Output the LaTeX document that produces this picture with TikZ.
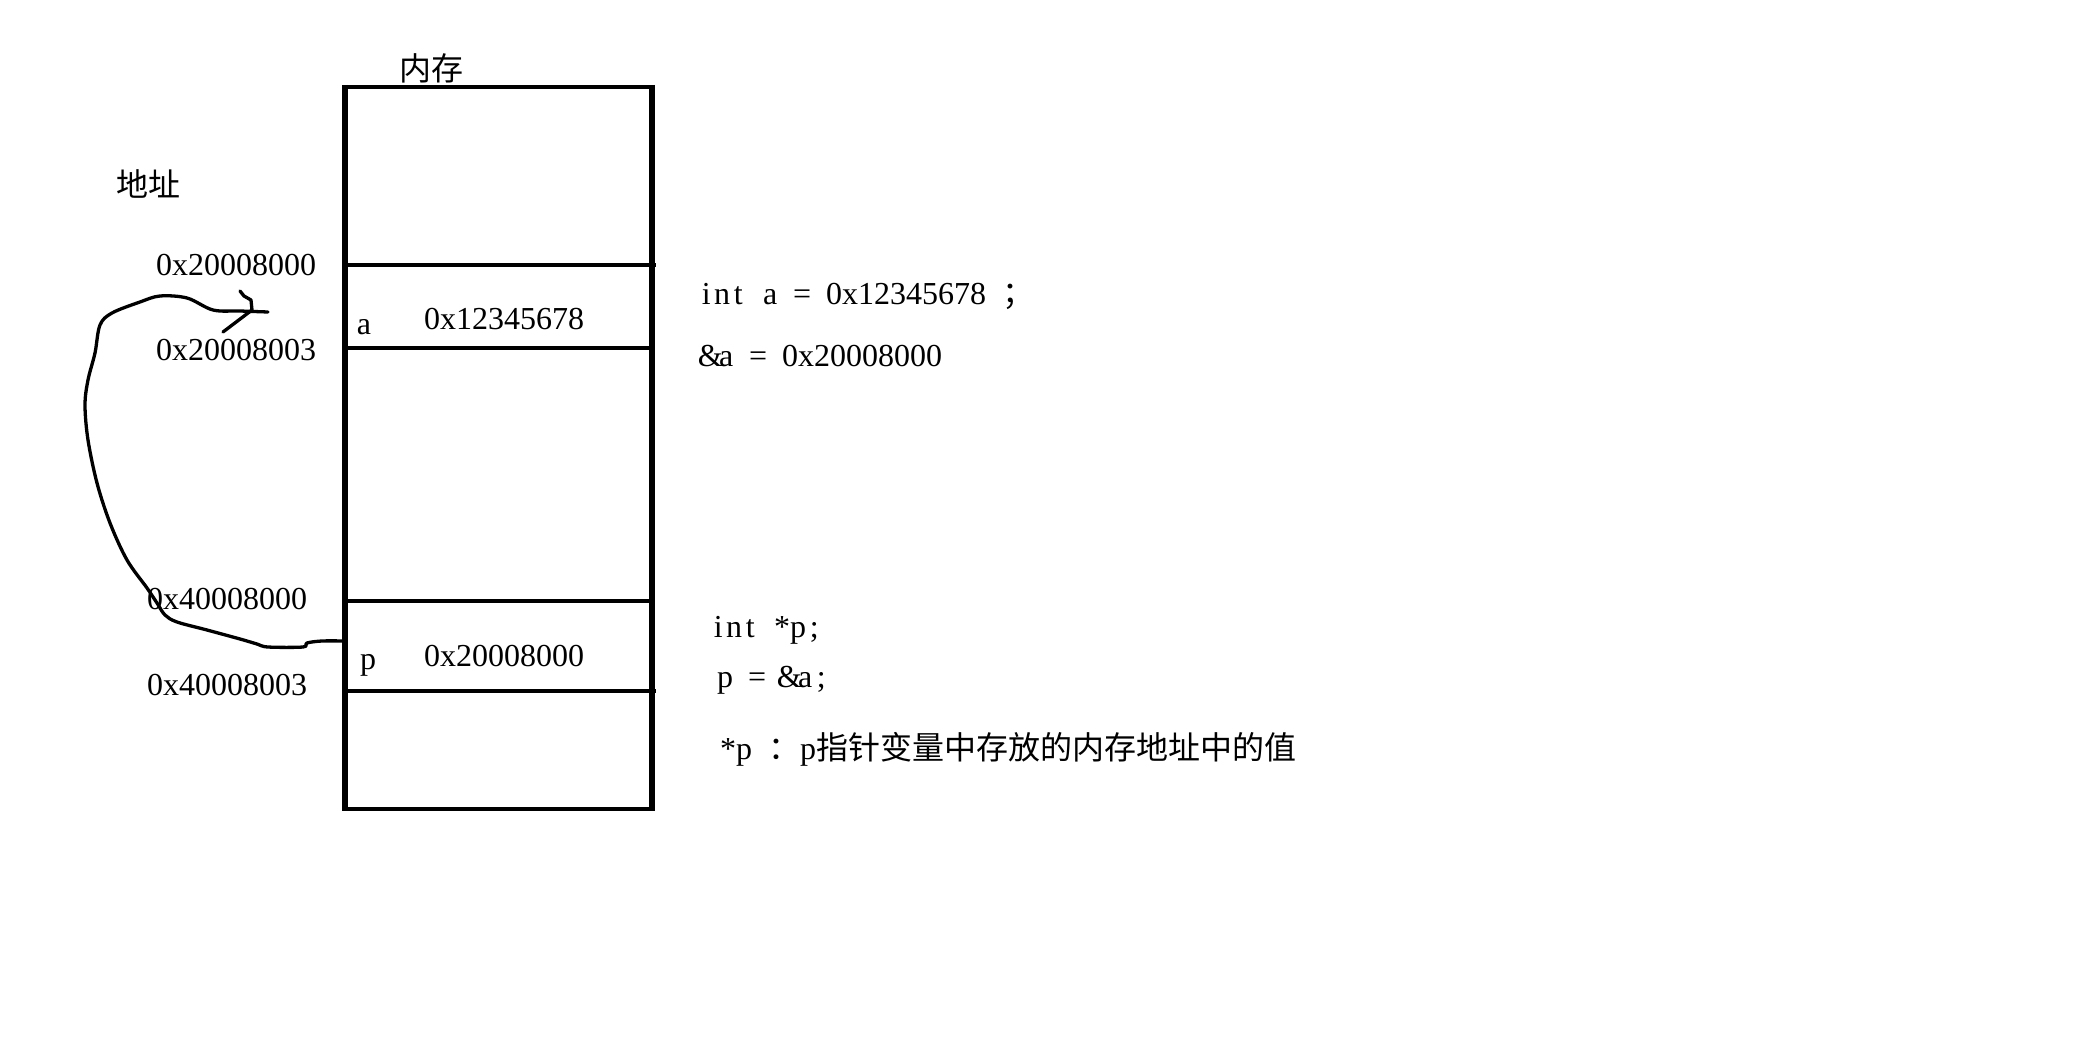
\documentclass[tikz,border=0pt]{standalone}
\usepackage{fontspec}
\setmainfont{Liberation Serif}
\newfontfamily\cjk{Noto Sans CJK SC}
\newlength\cw \setlength\cw{16pt}
\def\monoloop#1{\ifx#1\relax\else\makebox[\cw][c]{#1}\expandafter\monoloop\fi}
\newcommand\M[1]{\monoloop#1\relax}
\begin{document}
\begin{tikzpicture}[x=1pt,y=-1pt,
  every node/.style={inner sep=0pt, font=\fontsize{32}{36}\selectfont},
  cjkt/.style={font=\cjk\fontsize{32}{36}\selectfont},
  hline/.style={line width=4.4pt},
  vline/.style={line width=5.4pt},
  pen/.style={line width=3.3pt, line cap=round, line join=round}]
\useasboundingbox[fill=white] (0,0) rectangle (2096,1056);

% memory column
\draw[vline] (345,85) -- (345,811);
\draw[vline] (652,85) -- (652,811);
\draw[hline] (342.3,87) -- (654.7,87);
\draw[hline] (342.3,809) -- (654.7,809);
\draw[hline] (345,265) -- (656,265);
\draw[hline] (342,348) -- (652,348);
\draw[hline] (345,601) -- (652,601);
\draw[hline] (345,691) -- (656,691);

% labels
\node[cjkt] (mem) at (431,68) {内存};
\node[cjkt] (addr) at (148,184) {地址};
\node (a0) at (236,265) {0x20008000};
\node (a3) at (236,350) {0x20008003};
\node (b0) at (227,599) {0x40008000};
\node (b3) at (227,685) {0x40008003};
\node[anchor=base] (na) at (364,335) {a};
\node (va) at (504,319) {0x12345678};
\node[anchor=base] (np) at (368,669) {p};
\node (vp) at (504,656) {0x20008000};

% code text
\node[anchor=base west] (c1) at (698,305) {\M{int~a~=~0x12345678~}{\cjk；}};
\node[anchor=base west] (c2) at (702,367) {\M{\&a~=~0x20008000}};
\node[anchor=base west] (c3) at (710,637) {\M{int~*p;}};
\node[anchor=base west] (c4) at (717,687) {\M{p~=~\&a;}};
\node[anchor=base west] (c5) at (720,759) {\M{*p~}{\cjk：}\M{p}{\cjk 指针变量中存放的内存地址中的值}};

% hand-drawn pointer arrow
\coordinate (pcell) at (345,641);
\coordinate (target) at (268,312);
\draw[pen] plot[smooth, tension=0.55] coordinates {(pcell) (322,641) (307,643) (303,647) (268,647) (257,644) (240,639) (207,630) (177,622) (165,615) (157,603) (147,588) (127,560) (110,523) (97,483) (88,440) (85,405) (88,380) (95,353) (100,325) (112,313) (140,302) (160,296) (187,298) (213,310) (240,311) (target)};
\draw[pen] (240,291) -- (244,296) -- (251,300) -- (252,310) -- (223,332);
\end{tikzpicture}
\end{document}
